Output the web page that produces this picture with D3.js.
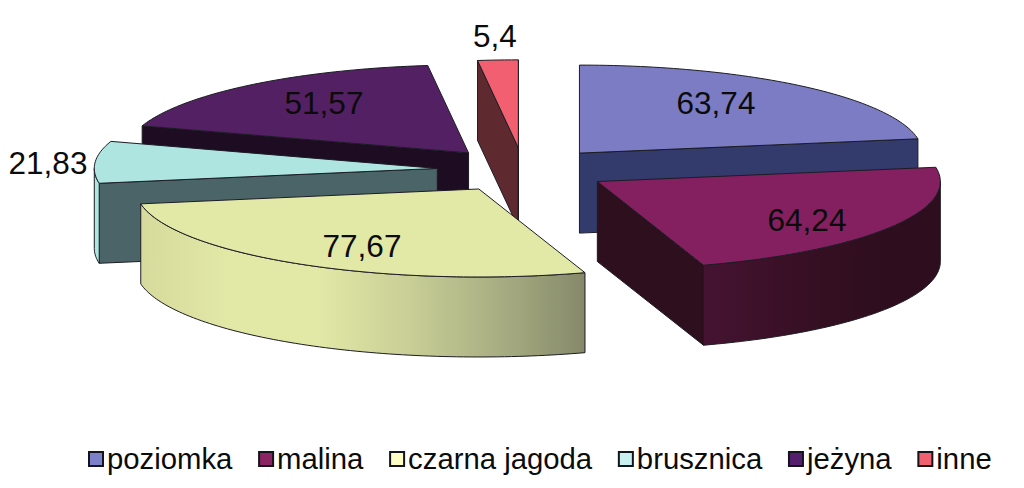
<!DOCTYPE html>
<html>
<head>
<meta charset="utf-8">
<script src="https://cdn.jsdelivr.net/npm/d3@7"></script>
<style>
html, body { margin: 0; padding: 0; background: #fff; }
text { font-family: "Liberation Sans", Arial, sans-serif; fill: #0b0b0b; }
</style>
</head>
<body>
<svg id="chart" width="1024" height="488"></svg>
<script>
// data
var categories = ['poziomka', 'malina', 'czarna jagoda', 'brusznica', 'jeżyna', 'inne'];
var values = [63.74, 64.24, 77.67, 21.83, 51.57, 5.4];
var valueLabels = ['63,74', '64,24', '77,67', '21,83', '51,57', '5,4'];

// colours, same order as categories
var capColors = ['#7b7cc4', '#84205f', '#e2e8a6', '#aee5e1', '#532063', '#f25f70'];
var cutColors = ['#333b6c', '#2e0f1e', '#85896a', '#4a6468', '#1d0c22', '#5f2930'];
var legendColors = ['#7c80c8', '#8c2464', '#fdfdc4', '#c8f0f0', '#54206e', '#f0606e'];
var wallStops = [
    ['#333b6c', '#333b6c'],
    ['#451332', '#3d1129', '#340f22', '#2e0e1e', '#2e0e1e'],
    ['#d6da9c', '#e2e8a6', '#e2e8a6', '#c9cf96', '#a9af83', '#85896a'],
    ['#aee5e1', '#aee5e1'],
    ['#1d0c22', '#1d0c22'],
    ['#5f2930', '#5f2930']
];

// layout
var width = 1024;
var height = 488;
var centerX = 523.5;
var centerY = 170;
var radiusX = 343;
var radiusY = 88;
var depth = 80;
var explode = 0.252;
var drawOrder = [5, 4, 3, 2, 0, 1];
var labelPos = [[716, 114], [807, 231], [362, 257], [48, 174], [324, 114], [495, 47]];
var labelSize = 31.5;
var legendX = 88;
var legendY = 469;
var legendSize = 29.3;
var legendGap = 25.7;

var svg = d3.select('#chart').attr('viewBox', '0 0 ' + width + ' ' + height);
var defs = svg.append('defs');

// unit circle -> flattened pie on screen
var scaleX = d3.scaleLinear().domain([-1, 1]).range([-radiusX, radiusX]);
var scaleY = d3.scaleLinear().domain([-1, 1]).range([-radiusY, radiusY]);

var pie = d3.pie().sort(null).value(function(d) { return d; });
var slices = pie(values);

var line = d3.line();

var rim = function(angle) {
    return [scaleX(Math.sin(angle)), scaleY(-Math.cos(angle))];
};

var arcPoints = function(a0, a1) {
    var steps = Math.max(2, Math.ceil((a1 - a0) / 0.02));
    return d3.range(steps + 1).map(function(i) {
        return rim(a0 + (a1 - a0) * i / steps);
    });
};

var drop = function(points) {
    return points.map(function(p) { return [p[0], p[1] + depth]; });
};

var addGradient = function(i) {
    var stops = wallStops[i];
    var grad = defs.append('linearGradient')
        .attr('id', 'wall' + i)
        .attr('gradientUnits', 'objectBoundingBox')
        .attr('x1', 0).attr('x2', 1).attr('y1', 0).attr('y2', 0);
    stops.forEach(function(c, n) {
        grad.append('stop')
            .attr('offset', n / (stops.length - 1))
            .attr('stop-color', c);
    });
};

var drawShape = function(g, points, fill) {
    g.append('path')
        .attr('d', line(points) + 'Z')
        .attr('fill', fill)
        .attr('stroke', '#1c1c24')
        .attr('stroke-width', 1)
        .attr('stroke-linejoin', 'round');
};

var drawCut = function(g, angle, fill) {
    var edge = [[0, 0], rim(angle)];
    drawShape(g, edge.concat(drop(edge).reverse()), fill);
};

drawOrder.forEach(function(i) {
    var s = slices[i];
    var mid = (s.startAngle + s.endAngle) / 2;
    var g = svg.append('g').attr('transform', 'translate(' +
        (centerX + explode * scaleX(Math.sin(mid))) + ',' +
        (centerY + explode * scaleY(-Math.cos(mid))) + ')');

    addGradient(i);

    // only the cut faces turned towards the viewer
    if (Math.sin(s.startAngle) < 0) drawCut(g, s.startAngle, cutColors[i]);
    if (Math.sin(s.endAngle) > 0) drawCut(g, s.endAngle, cutColors[i]);

    // outer wall, front half of the ellipse only
    var w0 = Math.max(s.startAngle, Math.PI / 2);
    var w1 = Math.min(s.endAngle, Math.PI * 1.5);
    if (w1 > w0) {
        var top = arcPoints(w0, w1);
        drawShape(g, top.concat(drop(top).reverse()), 'url(#wall' + i + ')');
    }

    drawShape(g, [[0, 0]].concat(arcPoints(s.startAngle, s.endAngle)), capColors[i]);
});

svg.append('g').selectAll('text')
    .data(valueLabels)
    .enter()
    .append('text')
    .attr('x', function(d, i) { return labelPos[i][0]; })
    .attr('y', function(d, i) { return labelPos[i][1]; })
    .attr('text-anchor', 'middle')
    .attr('font-size', labelSize)
    .text(function(d) { return d; });

// legend, entries placed one after the other from the measured text width
var legend = svg.append('g');
var cursor = legendX;
categories.forEach(function(name, i) {
    legend.append('rect')
        .attr('x', cursor + 1)
        .attr('y', legendY - 17)
        .attr('width', 14)
        .attr('height', 14)
        .attr('fill', legendColors[i])
        .attr('stroke', '#14141c')
        .attr('stroke-width', 2);
    var label = legend.append('text')
        .attr('x', cursor + 19)
        .attr('y', legendY)
        .attr('font-size', legendSize)
        .text(name);
    cursor += 19 + label.node().getComputedTextLength() + legendGap;
});
</script>
</body>
</html>
